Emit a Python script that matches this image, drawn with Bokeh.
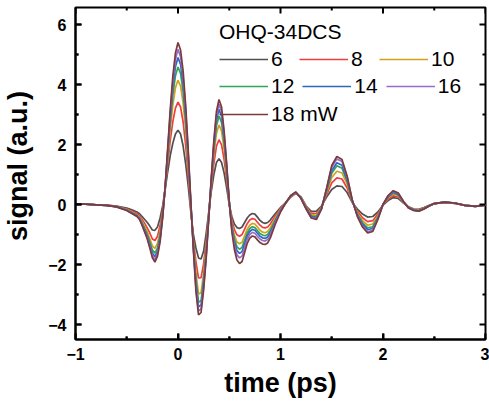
import math
from bokeh.plotting import figure
from bokeh.models import Legend, LegendItem, Range1d, FixedTicker
from bokeh.embed import file_html
from bokeh.resources import INLINE

# ---------------- data ----------------
time_ps = [-1.0, -0.9, -0.8, -0.7, -0.6, -0.5, -0.45, -0.4,
           -0.375, -0.35, -0.325, -0.3, -0.275, -0.25, -0.225, -0.2,
           -0.175, -0.15, -0.125, -0.1, -0.075, -0.05, -0.025, 0.0,
           0.025, 0.05, 0.075, 0.1, 0.125, 0.15, 0.175, 0.2,
           0.225, 0.25, 0.275, 0.3, 0.325, 0.35, 0.375, 0.4,
           0.425, 0.45, 0.475, 0.5, 0.525, 0.55, 0.575, 0.6,
           0.625, 0.65, 0.675, 0.7, 0.725, 0.75, 0.775, 0.8,
           0.825, 0.85, 0.875, 0.9, 0.95, 1.0, 1.05, 1.1,
           1.15, 1.2, 1.25, 1.3, 1.35, 1.4, 1.45, 1.5,
           1.55, 1.6, 1.65, 1.7, 1.75, 1.8, 1.85, 1.9,
           1.95, 2.0, 2.05, 2.1, 2.15, 2.2, 2.25, 2.3,
           2.35, 2.4, 2.45, 2.5, 2.6, 2.7, 2.8, 2.9, 3.0]

sig_6 = [0.02, 0.01, -0.01, -0.02, -0.05, -0.12, -0.18, -0.25,
         -0.31, -0.4, -0.5, -0.6, -0.72, -0.85, -0.86, -0.75,
         -0.45, -0.05, 0.5, 1.1, 1.65, 2.05, 2.35, 2.48,
         2.35, 1.95, 1.35, 0.6, -0.25, -1.0, -1.45, -1.78,
         -1.82, -1.55, -0.95, -0.25, 0.45, 1.0, 1.4, 1.53,
         1.4, 1.05, 0.55, 0.0, -0.4, -0.65, -0.77, -0.8,
         -0.75, -0.6, -0.45, -0.35, -0.3, -0.32, -0.42, -0.53,
         -0.6, -0.63, -0.6, -0.52, -0.3, -0.1, 0.05, 0.25,
         0.37, 0.25, -0.05, -0.23, -0.22, -0.05, 0.25, 0.5,
         0.62, 0.6, 0.4, 0.07, -0.15, -0.32, -0.42, -0.4,
         -0.25, -0.02, 0.13, 0.23, 0.2, 0.05, -0.08, -0.15,
         -0.16, -0.1, -0.03, 0.03, 0.07, 0.04, -0.03, -0.05, -0.02]

sig_8 = [0.02, 0.01, -0.01, -0.02, -0.06, -0.15, -0.22, -0.30,
         -0.37, -0.50, -0.63, -0.78, -0.95, -1.15, -1.20, -1.06,
         -0.71, -0.18, 0.53, 1.36, 2.15, 2.77, 3.21, 3.41,
         3.25, 2.75, 1.97, 0.98, -0.14, -1.16, -1.91, -2.45,
         -2.44, -1.97, -1.22, -0.31, 0.59, 1.37, 1.94, 2.16,
         1.99, 1.50, 0.81, 0.03, -0.51, -0.84, -1.01, -1.06,
         -1.00, -0.82, -0.64, -0.52, -0.47, -0.49, -0.59, -0.69,
         -0.76, -0.78, -0.75, -0.65, -0.38, -0.13, 0.05, 0.26,
         0.38, 0.24, -0.07, -0.29, -0.30, -0.08, 0.33, 0.72,
         0.89, 0.85, 0.55, 0.09, -0.22, -0.44, -0.57, -0.54,
         -0.32, -0.01, 0.18, 0.29, 0.25, 0.06, -0.09, -0.16,
         -0.18, -0.11, -0.04, 0.03, 0.07, 0.04, -0.03, -0.05, -0.02]

sig_10 = [0.02, 0.01, -0.01, -0.03, -0.07, -0.17, -0.25, -0.34,
          -0.42, -0.57, -0.74, -0.91, -1.14, -1.38, -1.46, -1.30,
          -0.91, -0.28, 0.56, 1.56, 2.53, 3.33, 3.89, 4.14,
          3.95, 3.38, 2.46, 1.28, -0.05, -1.29, -2.28, -2.98,
          -2.94, -2.29, -1.43, -0.36, 0.71, 1.66, 2.37, 2.65,
          2.45, 1.85, 1.01, 0.06, -0.62, -1.02, -1.25, -1.31,
          -1.26, -1.04, -0.82, -0.69, -0.63, -0.65, -0.75, -0.86,
          -0.92, -0.94, -0.90, -0.78, -0.45, -0.17, 0.05, 0.27,
          0.39, 0.23, -0.09, -0.34, -0.36, -0.10, 0.40, 0.90,
          1.11, 1.05, 0.68, 0.11, -0.28, -0.54, -0.69, -0.65,
          -0.38, -0.01, 0.22, 0.35, 0.29, 0.08, -0.10, -0.18,
          -0.19, -0.13, -0.04, 0.03, 0.08, 0.05, -0.03, -0.06, -0.02]

sig_12 = [0.02, 0.01, -0.01, -0.03, -0.07, -0.18, -0.27, -0.36,
          -0.45, -0.62, -0.80, -1.00, -1.25, -1.52, -1.62, -1.45,
          -1.03, -0.34, 0.57, 1.68, 2.77, 3.67, 4.29, 4.58,
          4.37, 3.75, 2.75, 1.46, 0.00, -1.36, -2.49, -3.26,
          -3.21, -2.49, -1.56, -0.39, 0.77, 1.83, 2.62, 2.95,
          2.73, 2.06, 1.13, 0.07, -0.70, -1.15, -1.41, -1.49,
          -1.43, -1.19, -0.95, -0.80, -0.74, -0.77, -0.87, -0.97,
          -1.02, -1.04, -1.00, -0.87, -0.51, -0.19, 0.05, 0.28,
          0.40, 0.22, -0.11, -0.38, -0.41, -0.12, 0.45, 1.04,
          1.29, 1.21, 0.77, 0.12, -0.32, -0.61, -0.78, -0.74,
          -0.42, 0.00, 0.25, 0.39, 0.32, 0.08, -0.11, -0.18,
          -0.20, -0.13, -0.04, 0.03, 0.08, 0.05, -0.03, -0.06, -0.02]

sig_14 = [0.02, 0.01, -0.01, -0.03, -0.07, -0.19, -0.28, -0.37,
          -0.47, -0.65, -0.85, -1.06, -1.33, -1.62, -1.74, -1.56,
          -1.11, -0.38, 0.58, 1.76, 2.94, 3.92, 4.59, 4.90,
          4.67, 4.03, 2.97, 1.60, 0.04, -1.42, -2.65, -3.41,
          -3.35, -2.63, -1.66, -0.42, 0.82, 1.95, 2.81, 3.17,
          2.94, 2.21, 1.21, 0.08, -0.76, -1.25, -1.54, -1.63,
          -1.57, -1.31, -1.05, -0.90, -0.83, -0.86, -0.96, -1.06,
          -1.11, -1.13, -1.08, -0.95, -0.55, -0.21, 0.05, 0.29,
          0.41, 0.21, -0.12, -0.40, -0.44, -0.13, 0.49, 1.13,
          1.39, 1.31, 0.83, 0.13, -0.35, -0.66, -0.84, -0.80,
          -0.45, 0.00, 0.26, 0.41, 0.34, 0.09, -0.11, -0.19,
          -0.21, -0.14, -0.05, 0.03, 0.08, 0.05, -0.03, -0.06, -0.02]

sig_16 = [0.02, 0.01, -0.01, -0.03, -0.08, -0.19, -0.29, -0.39,
          -0.48, -0.68, -0.89, -1.11, -1.39, -1.71, -1.84, -1.64,
          -1.19, -0.42, 0.59, 1.84, 3.08, 4.12, 4.83, 5.17,
          4.93, 4.25, 3.14, 1.70, 0.07, -1.46, -2.78, -3.55,
          -3.48, -2.75, -1.73, -0.43, 0.86, 2.06, 2.96, 3.34,
          3.10, 2.34, 1.29, 0.09, -0.82, -1.36, -1.68, -1.78,
          -1.72, -1.44, -1.16, -1.00, -0.93, -0.96, -1.06, -1.15,
          -1.20, -1.22, -1.17, -1.02, -0.59, -0.23, 0.05, 0.29,
          0.41, 0.21, -0.14, -0.43, -0.48, -0.14, 0.53, 1.24,
          1.52, 1.43, 0.91, 0.14, -0.38, -0.72, -0.91, -0.86,
          -0.48, 0.00, 0.29, 0.44, 0.37, 0.10, -0.12, -0.20,
          -0.22, -0.15, -0.05, 0.03, 0.08, 0.05, -0.03, -0.06, -0.02]

sig_18 = [0.02, 0.01, -0.01, -0.03, -0.08, -0.2, -0.3, -0.4,
          -0.5, -0.7, -0.92, -1.15, -1.45, -1.78, -1.92, -1.72,
          -1.25, -0.45, 0.6, 1.9, 3.2, 4.3, 5.05, 5.4,
          5.15, 4.45, 3.3, 1.8, 0.1, -1.5, -2.9, -3.68,
          -3.6, -2.85, -1.8, -0.45, 0.9, 2.15, 3.1, 3.5,
          3.25, 2.45, 1.35, 0.1, -0.9, -1.5, -1.85, -1.97,
          -1.9, -1.6, -1.3, -1.12, -1.05, -1.08, -1.18, -1.27,
          -1.32, -1.33, -1.28, -1.12, -0.65, -0.25, 0.05, 0.3,
          0.42, 0.2, -0.15, -0.45, -0.5, -0.15, 0.55, 1.3,
          1.6, 1.5, 0.95, 0.15, -0.4, -0.75, -0.95, -0.9,
          -0.5, 0.0, 0.3, 0.46, 0.38, 0.1, -0.12, -0.2,
          -0.22, -0.15, -0.05, 0.03, 0.08, 0.05, -0.03, -0.06, -0.02]

series = [sig_6, sig_8, sig_10, sig_12, sig_14, sig_16, sig_18]
labels = ["6", "8", "10", "12", "14", "16", "18 mW"]
colors = ["#505050", "#f03e3e", "#d4a11e", "#2ea55a", "#2f66c0", "#9a6bc8", "#7a3b3b"]
legend_title = "OHQ-34DCS"
x_title = "time (ps)"
y_title = "signal (a.u.)"

x_ticks = [-1, 0, 1, 2, 3]
x_minor = [-0.5, 0.5, 1.5, 2.5]
y_ticks = [-4, -2, 0, 2, 4, 6]
y_minor = [-3, -1, 1, 3, 5]

for s in series:
    assert len(s) == len(time_ps)

# ---------------- figure ----------------
FONT = "Liberation Sans"
X0, X1 = -1, 3
Y0, Y1 = -4.5, 6.567

p = figure(width=489, height=403,
           x_range=Range1d(X0, X1), y_range=Range1d(Y0, Y1),
           output_backend="svg", toolbar_location=None,
           min_border_left=73, min_border_right=4,
           min_border_top=7, min_border_bottom=64)

p.xgrid.visible = False
p.ygrid.visible = False
p.outline_line_color = "black"
p.outline_line_width = 2
p.background_fill_color = "white"
p.border_fill_color = "white"

xt = FixedTicker(ticks=x_ticks, minor_ticks=x_minor)
yt = FixedTicker(ticks=y_ticks, minor_ticks=y_minor)

for ax, tk in ((p.xaxis[0], xt), (p.yaxis[0], yt)):
    ax.ticker = tk
    ax.axis_line_width = 2
    ax.axis_line_color = "black"
    ax.major_tick_in = 6
    ax.major_tick_out = 0
    ax.minor_tick_in = 3
    ax.minor_tick_out = 0
    ax.major_tick_line_width = 2
    ax.minor_tick_line_width = 2
    ax.major_tick_line_color = "black"
    ax.minor_tick_line_color = "black"
    ax.major_label_text_font = FONT
    ax.major_label_text_font_style = "bold"
    ax.major_label_text_font_size = "16px"
    ax.major_label_text_color = "black"
    ax.axis_label_text_font = FONT
    ax.axis_label_text_font_style = "bold"
    ax.axis_label_text_font_size = "27px"
    ax.axis_label_text_color = "black"

p.xaxis[0].axis_label = x_title
p.yaxis[0].axis_label = "\u00a0\u00a0" + y_title
p.xaxis[0].major_label_standoff = 8
p.yaxis[0].major_label_standoff = 9
p.xaxis[0].axis_label_standoff = 5
p.yaxis[0].axis_label_standoff = 12

# curves
renderers = []
for s, c in zip(series, colors):
    r = p.line(time_ps, s, line_color=c, line_width=1.7)
    renderers.append(r)

# tick marks on all four frame edges (inside, clipped to the frame)
for xs_, sz in ((x_ticks, 12), (x_minor, 6)):
    p.scatter(xs_, [Y1] * len(xs_), marker="dash", angle=math.pi / 2,
              size=sz, line_color="black", line_width=2)
    p.scatter(xs_, [Y0] * len(xs_), marker="dash", angle=math.pi / 2,
              size=sz, line_color="black", line_width=2)
for ys_, sz in ((y_ticks, 12), (y_minor, 6)):
    p.scatter([X1] * len(ys_), ys_, marker="dash",
              size=sz, line_color="black", line_width=2)
    p.scatter([X0] * len(ys_), ys_, marker="dash",
              size=sz, line_color="black", line_width=2)

# legend (three rows)
rows = [[0, 1, 2], [3, 4, 5], [6]]
locs = [(144, 268), (144, 241), (144, 213)]
for i, (row, loc) in enumerate(zip(rows, locs)):
    items = [LegendItem(label=labels[k], renderers=[renderers[k]]) for k in row]
    lg = Legend(items=items, location=loc, orientation="horizontal",
                glyph_width=49, glyph_height=24, label_height=24,
                label_width=20, label_standoff=3, spacing=8,
                padding=0, margin=0,
                border_line_alpha=0, background_fill_alpha=0,
                label_text_font=FONT, label_text_font_size="21px",
                label_text_color="black")
    if i == 0:
        lg.title = legend_title
        lg.title_text_font = FONT
        lg.title_text_font_size = "21px"
        lg.title_text_font_style = "normal"
        lg.title_text_color = "black"
        lg.title_standoff = 3
    p.add_layout(lg)

open("out.html", "w").write(file_html(p, INLINE))
